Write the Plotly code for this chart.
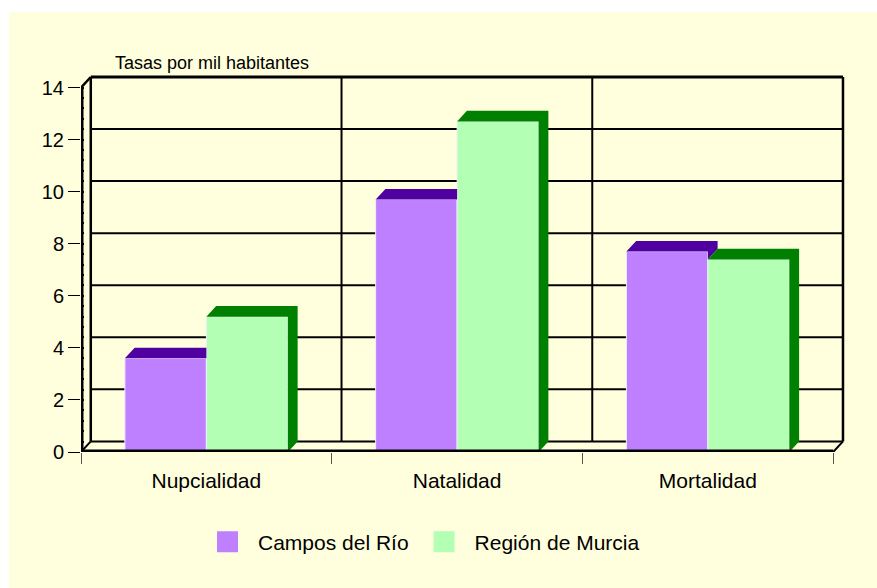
import plotly.graph_objects as go

# ---- data ----
categories = ["Nupcialidad", "Natalidad", "Mortalidad"]
series_names = ["Campos del Río", "Región de Murcia"]
campos = [3.6, 9.7, 7.7]
murcia = [5.2, 12.7, 7.4]
y_ticks = [0, 2, 4, 6, 8, 10, 12, 14]
axis_title = "Tasas por mil habitantes"

# ---- style ----
BG = "#FFFFDD"
PURPLE = "#BF80FF"
PURPLE_DARK = "#5000A0"
GREEN = "#B3FFB3"
GREEN_DARK = "#008000"
EDGE = "#EEEEFF"
FONT = "Arial, Liberation Sans, sans-serif"

BAR_W = 0.325      # width of each bar (category units)
DX = 0.039         # 3D depth, x units
DY = 0.407         # 3D depth, y units
PADX = 0.008
PADY = 0.077
YMAX = y_ticks[-1]
xs = list(range(len(categories)))

fig = go.Figure()

# front faces
fig.add_trace(go.Bar(x=xs, y=campos, width=BAR_W, offset=-BAR_W, name=series_names[0],
                     marker=dict(color=PURPLE, line=dict(color=EDGE, width=1)),
                     showlegend=False, hoverinfo="y"))
fig.add_trace(go.Bar(x=xs, y=murcia, width=BAR_W, offset=0, name=series_names[1],
                     marker=dict(color=GREEN, line=dict(color=EDGE, width=1)),
                     showlegend=False, hoverinfo="y"))

# 3D faces computed from the values
px_, py_ = [], []
gx_, gy_ = [], []
for c, v, g in zip(xs, campos, murcia):
    xl, x1, x2 = c - BAR_W, c, c + BAR_W
    if g >= v:
        px_ += [xl, x1, x1, xl + DX, xl, None]
        py_ += [v, v, min(g, v + DY), v + DY, v, None]
    else:
        px_ += [xl, x1, x1 + DX, xl + DX, xl, None]
        py_ += [v, v, v + DY, v + DY, v, None]
        px_ += [x1, x1 + DX, x1 + DX, x1, x1, None]
        py_ += [g, g + DY, v + DY, v, g, None]
    gx_ += [x1, x2, x2 + DX, x1 + DX, x1, None]
    gy_ += [g, g, g + DY, g + DY, g, None]
    gx_ += [x2, x2 + DX, x2 + DX, x2, x2, None]
    gy_ += [0, DY, g + DY, g, 0, None]

fig.add_trace(go.Scatter(x=px_, y=py_, mode="lines", fill="toself", fillcolor=PURPLE_DARK,
                         line=dict(width=0, color=PURPLE_DARK), hoverinfo="skip", showlegend=False))
fig.add_trace(go.Scatter(x=gx_, y=gy_, mode="lines", fill="toself", fillcolor=GREEN_DARK,
                         line=dict(width=0, color=GREEN_DARK), hoverinfo="skip", showlegend=False))

# legend entries
for nm, col in zip(series_names, [PURPLE, GREEN]):
    fig.add_trace(go.Scatter(x=[None], y=[None], mode="markers", name=nm,
                             marker=dict(symbol="square", size=16, color=col,
                                         line=dict(color=col, width=5))))

# ---- box / gridlines ----
shapes = []
L, R = -0.5, len(categories) - 0.5
def line(x0, y0, x1, y1, w=2, layer="below", color="black"):
    shapes.append(dict(type="line", xref="x", yref="y", x0=x0, y0=y0, x1=x1, y1=y1,
                       line=dict(color=color, width=w), layer=layer))

for t in y_ticks:
    w = 3 if t == YMAX else 2
    line(L + DX, t + DY, R + DX, t + DY, w)
for k in range(1, len(categories)):
    line(L + k + DX, DY, L + k + DX, YMAX + DY, 2)
line(L + DX, DY, L + DX, YMAX + DY, 2.5)
line(R + DX, DY, R + DX, YMAX + DY, 2.5)
line(L, YMAX, L + DX, YMAX + DY, 2.5)
line(L, 0, L + DX, DY, 2)
line(R, 0, R + DX, DY, 2, layer="above")
line(L, 0, L, YMAX, 5, layer="above")
line(L, 0, R, 0, 5, layer="above")

fig.update_layout(
    width=868, height=576,
    margin=dict(l=72, r=32, t=63, b=136),
    paper_bgcolor=BG, plot_bgcolor=BG,
    barmode="overlay",
    font=dict(family=FONT, color="black", size=20),
    shapes=shapes,
    showlegend=True,
    legend=dict(orientation="h", xref="container", yref="container",
                x=188 / 868, y=1 - 530 / 576, xanchor="left", yanchor="middle",
                font=dict(size=21, family=FONT), bgcolor="rgba(0,0,0,0)",
                itemwidth=51),
    xaxis=dict(range=[L, R + DX + PADX], tickmode="array", tickvals=xs, ticktext=categories,
               ticks="outside", ticklen=10, tickcolor="rgba(0,0,0,0)",
               showgrid=False, zeroline=False, showline=False,
               tickfont=dict(size=21, family=FONT),
               minor=dict(tickmode="array", tickvals=[L + k for k in range(len(categories) + 1)],
                          ticks="outside", ticklen=11, tickcolor="#555555", tickwidth=1,
                          showgrid=False),
               fixedrange=True),
    yaxis=dict(range=[0, YMAX + DY + PADY], tickmode="array", tickvals=y_ticks,
               ticks="outside", ticklen=12, tickcolor="black", tickwidth=1,
               showgrid=False, zeroline=False, showline=False,
               tickfont=dict(size=20, family=FONT),
               minor=dict(tickmode="array", tickvals=[round(k * 0.4, 2) for k in range(1, 36)],
                          ticks="inside", ticklen=3, tickcolor="black", tickwidth=1.5,
                          showgrid=False),
               fixedrange=True),
    annotations=[dict(text=axis_title, xref="paper", yref="paper",
                      x=(113 - 81) / 764, y=(452 - 63) / 377, xanchor="left", yanchor="middle",
                      showarrow=False, font=dict(size=18, family=FONT))],
)

fig.write_html("out.html",
               post_script="document.body.style.margin='12px 0 0 9px';"
                           "document.body.style.overflow='hidden';")
